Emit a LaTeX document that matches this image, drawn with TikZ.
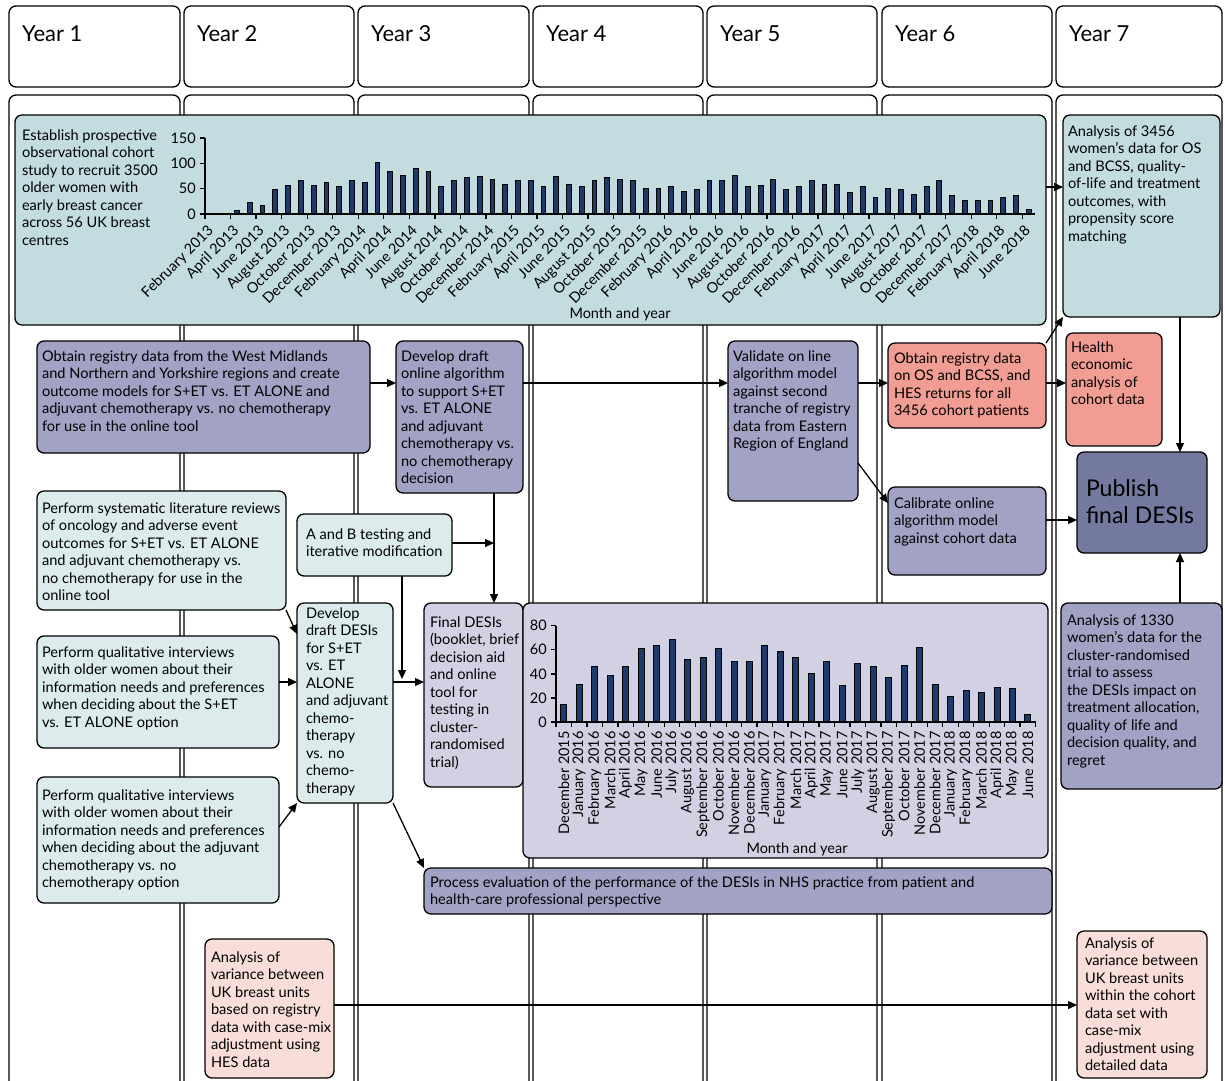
\documentclass[tikz,border=0pt]{standalone}
\usepackage{fontspec}
\setmainfont{Lato}
\usetikzlibrary{arrows.meta,calc}
\definecolor{cohort}{HTML}{C2DCE0}
\definecolor{light}{HTML}{DCECEC}
\definecolor{purp}{HTML}{A2A3C4}
\definecolor{lav}{HTML}{D1D1E3}
\definecolor{dpurp}{HTML}{7479A0}
\definecolor{salmon}{HTML}{F29D93}
\definecolor{pinkish}{HTML}{F8DDD9}
\definecolor{navy}{HTML}{1C3A6A}
\newcommand\bx[6]{\node[box,fill=#2,minimum width={#5-#3},minimum height={#6-#4}] (#1) at (#3,#4) {};}
\newcommand\tx[4]{\node[txt] (#1) at (#2,{#3-12.25}) {\rule{0pt}{12.25pt}#4};}
\begin{document}
\begin{tikzpicture}[x=1pt,y=-1pt,
  col/.style={draw=black,line width=1.3pt,rounded corners=7pt,fill=white},
  box/.style={draw=black,line width=1.3pt,rounded corners=7pt,anchor=north west,inner sep=0pt,outer sep=0pt},
  txt/.style={anchor=north west,inner sep=0pt,outer sep=0pt,align=left,font=\fontsize{14.6}{17.5}\selectfont},
  lab/.style={inner sep=0pt,font=\fontsize{14.5}{17}\selectfont},
  bar/.style={fill=navy,draw=black,line width=0.8pt},
  arr/.style={line width=1.3pt,-{Triangle[length=9pt,width=8pt]}},
  axisline/.style={line width=1.3pt}
]
\useasboundingbox (0,0) rectangle (1225,1080);
\clip (0,0) rectangle (1225,1080);
% columns
\foreach \a/\b/\n in {9/180/1,184/354/2,358/529/3,533/703/4,707/877/5,882/1052/6,1056/1222/7} {
  \draw[col] (\a,6) rectangle (\b,87);
  \node[anchor=base west,inner sep=0pt,font=\fontsize{22}{26}\selectfont] (yr\n) at (\a+13,41) {Year \n};
  \draw[col] (\a,95) rectangle (\b,1130);
}
% boxes
\bx{coh}{cohort}{15}{115}{1046}{325}
\bx{a3456}{cohort}{1063}{115}{1220}{317}
\bx{reg}{purp}{37}{341}{370}{453}
\bx{alg}{purp}{396}{341}{523}{493}
\bx{val}{purp}{728}{341}{858}{501}
\bx{os}{salmon}{888}{343}{1046}{428}
\bx{hea}{salmon}{1066}{333}{1162}{446}
\bx{pub}{dpurp}{1077}{452}{1207}{553}
\bx{cal}{purp}{888}{487}{1046}{575}
\bx{sys}{light}{37}{491}{286}{610}
\bx{ab}{light}{297}{514}{452}{576}
\bx{dd}{light}{297}{603}{393}{803}
\bx{q1}{light}{37}{636}{279}{748}
\bx{q2}{light}{37}{777}{279}{903}
\bx{fin}{lav}{424}{603}{523}{787}
\bx{ch2}{lav}{523}{603}{1048}{858}
\bx{proc}{purp}{424}{868}{1052}{914}
\bx{a1330}{purp}{1061}{603}{1222}{789}
\bx{v1}{pinkish}{205}{939}{334}{1078}
\bx{v2}{pinkish}{1077}{931}{1207}{1078}
% texts
\tx{coh-t}{22}{140}{Establish prospective\\observational cohort\\study to recruit 3500\\older women with\\early breast cancer\\across 56 UK breast\\centres}
\tx{a3456-t}{1068}{136}{Analysis of 3456\\women’s data for OS\\and BCSS, quality-\\of-life and treatment\\outcomes, with\\propensity score\\matching}
\tx{reg-t}{42}{361}{Obtain registry data from the West Midlands\\and Northern and Yorkshire regions and create\\outcome models for S+ET vs. ET ALONE and\\adjuvant chemotherapy vs. no chemotherapy\\for use in the online tool}
\tx{alg-t}{401}{361}{Develop draft\\online algorithm\\to support S+ET\\vs. ET ALONE\\and adjuvant\\chemotherapy vs.\\no chemotherapy\\decision}
\tx{val-t}{733}{361}{Validate on line\\algorithm model\\against second\\tranche of registry\\data from Eastern\\Region of England}
\tx{os-t}{894}{363}{Obtain registry data\\on OS and BCSS, and\\HES returns for all\\3456 cohort patients}
\tx{hea-t}{1071}{352}{Health\\economic\\analysis of\\cohort data}
\node[txt,font=\fontsize{23}{27}\selectfont] (pub-t) at (1086,{496-18.9}) {\rule{0pt}{18.9pt}Publish\\final DESIs};
\tx{cal-t}{894}{508}{Calibrate online\\algorithm model\\against cohort data}
\tx{sys-t}{42}{513}{Perform systematic literature reviews\\of oncology and adverse event\\outcomes for S+ET vs. ET ALONE\\and adjuvant chemotherapy vs.\\no chemotherapy for use in the\\online tool}
\tx{ab-t}{306}{539}{A and B testing and\\iterative modification}
\tx{dd-t}{306}{618}{Develop\\draft DESIs\\for S+ET\\vs. ET\\ALONE\\and adjuvant\\chemo-\\therapy\\vs. no\\chemo-\\therapy}
\tx{q1-t}{42}{657}{Perform qualitative interviews\\with older women about their\\information needs and preferences\\when deciding about the S+ET\\vs. ET ALONE option}
\tx{q2-t}{42}{800}{Perform qualitative interviews\\with older women about their\\information needs and preferences\\when deciding about the adjuvant\\chemotherapy vs. no\\chemotherapy option}
\tx{fin-t}{430}{627}{Final DESIs\\(booklet, brief\\decision aid\\and online\\tool for\\testing in\\cluster-\\randomised\\trial)}
\tx{proc-t}{430}{887}{Process evaluation of the performance of the DESIs in NHS practice from patient and\\health-care professional perspective}
\tx{a1330-t}{1067}{625}{Analysis of 1330\\women’s data for the\\cluster-randomised\\trial to assess\\the DESIs impact on\\treatment allocation,\\quality of life and\\decision quality, and\\regret}
\tx{v1-t}{211}{962}{Analysis of\\variance between\\UK breast units\\based on registry\\data with case-mix\\adjustment using\\HES data}
\tx{v2-t}{1085}{948}{Analysis of\\variance between\\UK breast units\\within the cohort\\data set with\\case-mix\\adjustment using\\detailed data}
% top chart
\foreach \v [count=\i from 0] in {0,0,7,23,16,48,57,66,57,62,54,66,62,101,84,77,89,84,54,66,72,75,69,59,66,66,54,75,59,54,66,72,69,66,50,50,54,45,48,66,66,77,54,56,69,48,54,66,59,59,42,54,33,50,48,39,54,66,36,27,27,27,33,36,9} {
  \pgfmathsetmacro\cx{205+(\i+0.5)*12.77}
  \ifnum\v>0 \filldraw[bar] (\cx-2.4,214) rectangle (\cx+2.4,{214-0.507*\v}); \fi
}
\draw[axisline] (205,138) -- (205,214) -- (1035,214);
\foreach \t in {0,50,100,150} {
  \draw[axisline] (200,{214-0.507*\t}) -- (205,{214-0.507*\t});
  \node[lab,anchor=east] (ty\t) at (196,{214-0.507*\t}) {\t};
}
\foreach \k in {0,...,32} \draw[axisline] ({205+2*\k*12.77},214) -- ({205+2*\k*12.77},219);
\foreach \lab [count=\k from 0] in {February 2013,April 2013,June 2013,August 2013,October 2013,December 2013,February 2014,April 2014,June 2014,August 2014,October 2014,December 2014,February 2015,April 2015,June 2015,August 2015,October 2015,December 2015,February 2016,April 2016,June 2016,August 2016,October 2016,December 2016,February 2017,April 2017,June 2017,August 2017,October 2017,December 2017,February 2018,April 2018,June 2018}
  \node[lab,rotate=45,anchor=north east] (tx\k) at ({205+(2*\k+0.5)*12.77-5},224) {\lab};
\node[lab,anchor=base] (tmy) at (620,318) {Month and year};
% bottom chart
\foreach \v [count=\i from 0] in {15,31,46,39,46,61,64,69,52,54,61,50,50,64,59,54,40,50,30,49,46,37,47,62,31,21,26,25,29,28,6} {
  \pgfmathsetmacro\cx{556+(\i+0.5)*15.47}
  \filldraw[bar] (\cx-3,722) rectangle (\cx+3,{722-1.204*\v});
}
\draw[axisline] (556,626) -- (556,722) -- (1036,722);
\foreach \t in {0,20,40,60,80} {
  \draw[axisline] (551,{722-1.204*\t}) -- (556,{722-1.204*\t});
  \node[lab,anchor=east] (by\t) at (547,{722-1.204*\t}) {\t};
}
\foreach \k in {0,...,31} \draw[axisline] ({556+\k*15.47},722) -- ({556+\k*15.47},727);
\foreach \lab [count=\k from 0] in {December 2015,January 2016,February 2016,March 2016,April 2016,May 2016,June 2016,July 2016,August 2016,September 2016,October 2016,November 2016,December 2016,January 2017,February 2017,March 2017,April 2017,May 2017,June 2017,July 2017,August 2017,September 2017,October 2017,November 2017,December 2017,January 2018,February 2018,March 2018,April 2018,May 2018,June 2018}
  \node[lab,rotate=90,anchor=east] (bx\k) at ({556+(\k+0.5)*15.47},731) {\lab};
\node[lab,anchor=base] (bmy) at (797,853) {Month and year};
% connectors
\coordinate (j1) at (494,543);
\coordinate (j2) at (402,679);
\draw[arr] (reg.east |- 0,383) -- (alg.west |- 0,383);
\draw[arr] (alg.east |- 0,383) -- (val.west |- 0,383);
\draw[arr] (val.east |- 0,383) -- (os.west |- 0,383);
\draw[arr] (os.east |- 0,383) -- (hea.west |- 0,383);
\draw[arr] (val.east |- 0,463) -- (cal.west |- 0,503);
\draw[arr] (coh.east |- 0,187) -- (a3456.west |- 0,187);
\draw[arr] (os.north east) -- (a3456.south west);
\draw[arr] (a3456.south -| 1180,0) -- (pub.north -| 1180,0);
\draw[arr] (a1330.north -| 1180,0) -- (pub.south -| 1180,0);
\draw[arr] (cal.east |- 0,520) -- (pub.west |- 0,520);
\draw[arr] (alg.south -| 494,0) -- (fin.north -| 494,0);
\draw[arr] (ab.east |- j1) -- (j1);
\draw[arr] (ab.south -| j2) -- (j2);
\draw[arr] (dd.east |- 0,682) -- (fin.west |- 0,682);
\draw[arr] (sys.south east) -- (dd.west |- 0,634);
\draw[arr] (q1.east |- 0,682) -- (dd.west |- 0,682);
\draw[arr] (q2.east |- 0,827) -- (dd.south west);
\draw[arr] (dd.south east) -- (proc.north west);
\draw[arr] (v1.east |- 0,1005) -- (v2.west |- 0,1005);
\end{tikzpicture}
\end{document}
